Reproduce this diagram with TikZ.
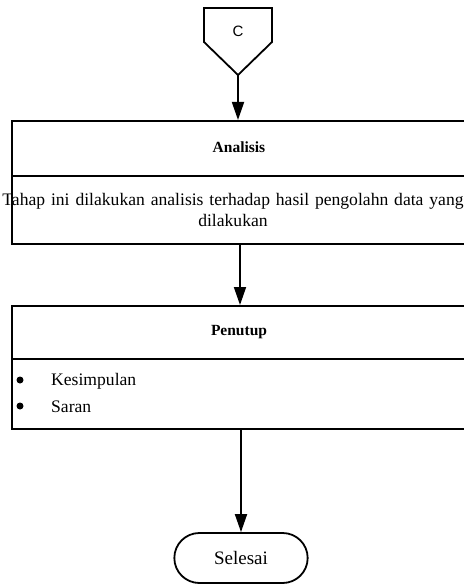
\documentclass[tikz,border=0pt]{standalone}
\usepackage{fontspec}
\setmainfont{Liberation Serif}
\newfontfamily\arialf{Liberation Sans}
\usetikzlibrary{arrows.meta,shapes.misc}
\begin{document}
\begin{tikzpicture}[x=1pt,y=-1pt,
  line/.style={line width=1.8pt},
  arr/.style={line, -{Triangle[length=18pt,width=12pt]}},
  box/.style={draw, line width=1.8pt, minimum width=455pt, anchor=north west, inner sep=0pt},
  term/.style={draw, line width=1.8pt, rounded rectangle, minimum width=140pt, minimum height=50pt, font=\fontsize{19}{22}\selectfont}]
\useasboundingbox (0,0) rectangle (463,585);
% off-page connector
\draw[line] (204,8) -- (272,8) -- (272,42) -- (238,75) -- (204,42) -- cycle;
\node[font=\arialf\fontsize{15}{17}\selectfont] (c) at (238,31) {C};
\coordinate (ctip) at (238,75);
% Analisis box
\node[box, minimum height=55pt] (ah) at (11,120) {};
\node[box, minimum height=68pt] (ab) at (11,175) {};
\node[font=\bfseries\fontsize{15.5}{18}\selectfont] (at) at (239,147) {Analisis};
\node[font=\fontsize{17.6}{21}\selectfont, align=center, text width=480pt] (atext) at (233,210) {Tahap ini dilakukan analisis terhadap hasil pengolahn data yang\\dilakukan};
% Penutup box
\node[box, minimum height=53pt] (ph) at (11,305) {};
\node[box, minimum height=70pt] (pb) at (11,358) {};
\node[font=\bfseries\fontsize{15.5}{18}\selectfont] (pt) at (239,332) {Penutup};
\fill (20,380) circle (3.5pt);
\fill (20,406) circle (3.5pt);
\node[anchor=west, font=\fontsize{17.6}{20}\selectfont, inner sep=0pt] (k1) at (51,381) {Kesimpulan};
\node[anchor=west, font=\fontsize{17.6}{20}\selectfont, inner sep=0pt] (k2) at (51,407) {Saran};
% terminator
\node[term] (sel) at (241,558) {Selesai};
% arrows
\draw[arr] (ctip) -- (238,120);
\draw[arr] (240,243) -- (240,305);
\draw[arr] (241,428) -- (sel.north);
\end{tikzpicture}
\end{document}
